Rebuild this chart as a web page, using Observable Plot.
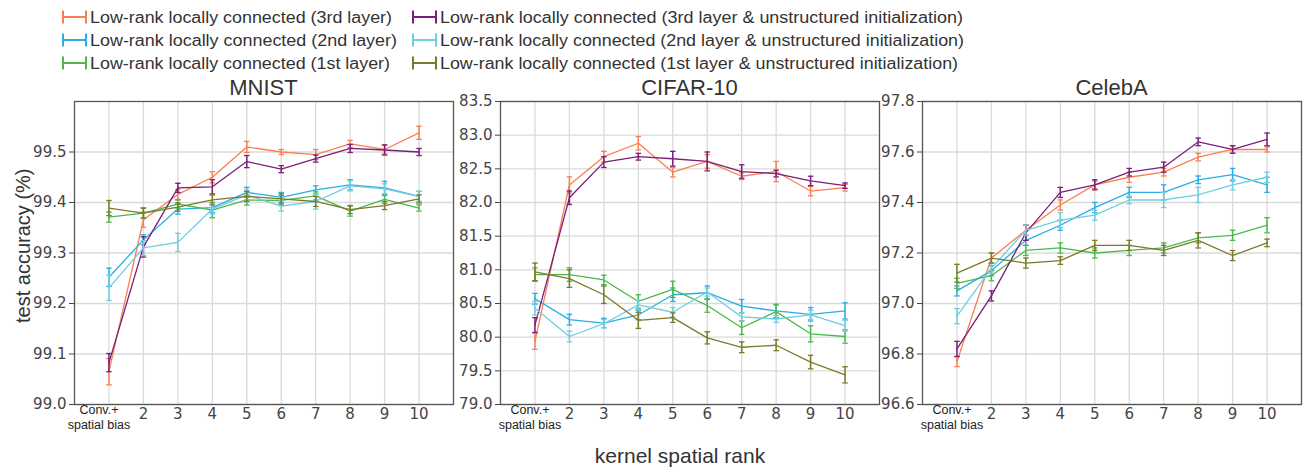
<!DOCTYPE html>
<html>
<head>
<meta charset="utf-8">
<script src="https://cdn.jsdelivr.net/npm/d3@7"></script>
<script src="https://cdn.jsdelivr.net/npm/@observablehq/plot@0.6"></script>
<style>
  html, body { margin: 0; padding: 0; background: #fff; }
  #root { position: relative; width: 1305px; height: 470px; overflow: hidden; background: #fff; }
  .abs { position: absolute; }
  .lbl { position: absolute; font-family: "Liberation Sans", Arial, sans-serif; color: #333; white-space: nowrap; line-height: 1; }
</style>
</head>
<body>
<div id="root"></div>
<script>
// ---------------- DATA ----------------
const xValues = [1, 2, 3, 4, 5, 6, 7, 8, 9, 10];
const xTickLabels = ["Conv.+\nspatial bias", "2", "3", "4", "5", "6", "7", "8", "9", "10"];

const seriesNames = [
  "Low-rank locally connected (3rd layer)",
  "Low-rank locally connected (2nd layer)",
  "Low-rank locally connected (1st layer)",
  "Low-rank locally connected (3rd layer & unstructured initialization)",
  "Low-rank locally connected (2nd layer & unstructured initialization)",
  "Low-rank locally connected (1st layer & unstructured initialization)"
];
const seriesColors = ["#fa7f50", "#2aaee6", "#4cb84c", "#7a1f7a", "#6fcde0", "#7a7a2a"];

const panelTitles = ["MNIST", "CIFAR-10", "CelebA"];

const mnistTicks = [99.0, 99.1, 99.2, 99.3, 99.4, 99.5];
const mnistMeans = [
  [99.065, 99.366, 99.416, 99.450, 99.510, 99.500, 99.495, 99.516, 99.505, 99.538],
  [99.252, 99.326, 99.387, 99.390, 99.420, 99.410, 99.425, 99.435, 99.429, 99.412],
  [99.371, 99.379, 99.397, 99.385, 99.405, 99.404, 99.413, 99.383, 99.406, 99.389],
  [99.083, 99.312, 99.429, 99.431, 99.481, 99.466, 99.487, 99.507, 99.504, 99.500],
  [99.231, 99.310, 99.321, 99.387, 99.415, 99.393, 99.402, 99.433, 99.427, 99.412],
  [99.389, 99.379, 99.391, 99.405, 99.412, 99.407, 99.402, 99.386, 99.394, 99.407]
];
const mnistErrs = [
  [0.026, 0.015, 0.010, 0.011, 0.011, 0.005, 0.010, 0.007, 0.009, 0.013],
  [0.018, 0.010, 0.010, 0.010, 0.010, 0.010, 0.008, 0.010, 0.013, 0.010],
  [0.010, 0.010, 0.008, 0.015, 0.010, 0.010, 0.008, 0.010, 0.008, 0.006],
  [0.018, 0.020, 0.009, 0.014, 0.012, 0.007, 0.007, 0.008, 0.010, 0.007],
  [0.025, 0.015, 0.018, 0.010, 0.010, 0.010, 0.015, 0.010, 0.010, 0.010],
  [0.015, 0.010, 0.008, 0.010, 0.010, 0.010, 0.010, 0.008, 0.008, 0.008]
];

const cifarTicks = [79.0, 79.5, 80.0, 80.5, 81.0, 81.5, 82.0, 82.5, 83.0, 83.5];
const cifarMeans = [
  [79.94, 82.26, 82.68, 82.88, 82.45, 82.61, 82.39, 82.46, 82.17, 82.22],
  [80.57, 80.26, 80.21, 80.33, 80.63, 80.66, 80.46, 80.39, 80.34, 80.39],
  [80.93, 80.93, 80.85, 80.53, 80.71, 80.47, 80.14, 80.38, 80.05, 80.01],
  [80.18, 82.07, 82.60, 82.68, 82.65, 82.61, 82.46, 82.43, 82.32, 82.25],
  [80.43, 80.01, 80.20, 80.48, 80.37, 80.67, 80.30, 80.27, 80.33, 80.17],
  [80.97, 80.87, 80.63, 80.25, 80.29, 79.99, 79.85, 79.88, 79.63, 79.44]
];
const cifarErrs = [
  [0.12, 0.12, 0.08, 0.10, 0.07, 0.10, 0.05, 0.15, 0.07, 0.05],
  [0.08, 0.08, 0.07, 0.07, 0.10, 0.10, 0.10, 0.10, 0.10, 0.12],
  [0.10, 0.10, 0.07, 0.10, 0.12, 0.10, 0.10, 0.10, 0.12, 0.10],
  [0.11, 0.10, 0.08, 0.05, 0.11, 0.14, 0.10, 0.05, 0.07, 0.04],
  [0.10, 0.08, 0.06, 0.07, 0.07, 0.06, 0.06, 0.05, 0.07, 0.08],
  [0.13, 0.13, 0.13, 0.12, 0.07, 0.09, 0.08, 0.08, 0.10, 0.12]
];

const celebaTicks = [96.6, 96.8, 97.0, 97.2, 97.4, 97.6, 97.8];
const celebaMeans = [
  [96.77, 97.18, 97.29, 97.39, 97.47, 97.50, 97.52, 97.58, 97.61, 97.61],
  [97.05, 97.13, 97.25, 97.31, 97.38, 97.44, 97.44, 97.49, 97.51, 97.47],
  [97.08, 97.11, 97.21, 97.22, 97.20, 97.21, 97.22, 97.26, 97.27, 97.31],
  [96.82, 97.03, 97.28, 97.44, 97.47, 97.52, 97.54, 97.64, 97.61, 97.65],
  [96.95, 97.14, 97.29, 97.33, 97.35, 97.41, 97.41, 97.43, 97.47, 97.50],
  [97.12, 97.18, 97.16, 97.17, 97.23, 97.23, 97.21, 97.25, 97.19, 97.24]
];
const celebaErrs = [
  [0.020, 0.020, 0.020, 0.020, 0.015, 0.020, 0.015, 0.015, 0.015, 0.010],
  [0.020, 0.020, 0.020, 0.020, 0.020, 0.020, 0.030, 0.015, 0.025, 0.030],
  [0.020, 0.020, 0.020, 0.020, 0.020, 0.020, 0.020, 0.020, 0.020, 0.030],
  [0.030, 0.020, 0.030, 0.020, 0.020, 0.015, 0.020, 0.015, 0.015, 0.025],
  [0.030, 0.020, 0.020, 0.030, 0.020, 0.015, 0.030, 0.030, 0.020, 0.020],
  [0.035, 0.020, 0.020, 0.015, 0.020, 0.020, 0.020, 0.030, 0.020, 0.015]
];

// ---------------- LAYOUT ----------------
const root = document.getElementById("root");
const PW = 444, PH = 353, ML = 60, MR = 5, MT = 5, MB = 45;
const panelLefts = [14, 440, 862];
const panelTop = 96;
const convDx = [-10, -5, -5];

function makePanel(means, errs, ticks, idx) {
  const rows = [];
  means.forEach((arr, s) => arr.forEach((v, i) => rows.push({s, x: xValues[i], y: v, e: errs[s][i]})));
  const marks = [
    Plot.ruleY(ticks, {stroke: "#dadada", strokeWidth: 1.3}),
    Plot.ruleX(xValues, {stroke: "#dadada", strokeWidth: 1.3})
  ];
  for (let s = 0; s < seriesNames.length; s++) {
    const d = rows.filter(r => r.s === s);
    const c = seriesColors[s];
    marks.push(Plot.line(d, {x: "x", y: "y", stroke: c, strokeWidth: 1.3}));
    marks.push(Plot.ruleX(d, {x: "x", y1: r => r.y - r.e, y2: r => r.y + r.e, stroke: c, strokeWidth: 1.5}));
    marks.push(Plot.link(d, {x1: r => r.x - 0.08, x2: r => r.x + 0.08, y1: r => r.y - r.e, y2: r => r.y - r.e, stroke: c, strokeWidth: 1.3}));
    marks.push(Plot.link(d, {x1: r => r.x - 0.08, x2: r => r.x + 0.08, y1: r => r.y + r.e, y2: r => r.y + r.e, stroke: c, strokeWidth: 1.3}));
  }
  const tickRows = xTickLabels.map((t, i) => ({x: xValues[i], lines: t.split("\n")}));
  const single = tickRows.filter(t => t.lines.length === 1);
  const multi = tickRows.filter(t => t.lines.length > 1);
  marks.push(Plot.text(single, {x: "x", text: r => r.lines[0], frameAnchor: "bottom", dy: 14, fontSize: 15, fill: "#444", fontFamily: "DejaVu Sans"}));
  marks.push(Plot.text(multi, {x: "x", text: r => r.lines[0], frameAnchor: "bottom", dy: 9, dx: convDx[idx], fontSize: 12.5, fill: "#222", fontFamily: "Liberation Sans"}));
  marks.push(Plot.text(multi, {x: "x", text: r => r.lines[1], frameAnchor: "bottom", dy: 24, dx: convDx[idx], fontSize: 12.5, fill: "#222", fontFamily: "Liberation Sans"}));
  marks.push(Plot.frame({stroke: "#555", strokeWidth: 1.3}));

  const svg = Plot.plot({
    width: PW, height: PH,
    marginLeft: ML, marginRight: MR, marginTop: MT, marginBottom: MB,
    style: {fontFamily: "DejaVu Sans", fontSize: "15px", color: "#444", background: "transparent", overflow: "visible"},
    x: {domain: [0, 11], axis: null},
    y: {domain: [ticks[0], idx === 0 ? 99.6 : ticks[ticks.length - 1]], ticks: ticks, tickFormat: d3.format(".1f"), tickSize: 5, tickPadding: 3, label: null},
    marks
  });
  svg.classList.add("abs");
  svg.style.left = panelLefts[idx] + "px";
  svg.style.top = panelTop + "px";
  root.appendChild(svg);

  const title = document.createElement("div");
  title.className = "lbl";
  title.textContent = panelTitles[idx];
  title.style.fontSize = "22px";
  title.style.width = "379px";
  title.style.textAlign = "center";
  title.style.left = (panelLefts[idx] + ML) + "px";
  title.style.top = "77px";
  root.appendChild(title);
}

makePanel(mnistMeans, mnistErrs, mnistTicks, 0);
makePanel(cifarMeans, cifarErrs, cifarTicks, 1);
makePanel(celebaMeans, celebaErrs, celebaTicks, 2);

// axis labels
const ylab = document.createElement("div");
ylab.className = "lbl";
ylab.textContent = "test accuracy (%)";
ylab.style.fontSize = "20px";
ylab.style.left = "0px";
ylab.style.top = "0px";
root.appendChild(ylab);
{
  const w = ylab.offsetWidth, h = ylab.offsetHeight;
  ylab.style.transformOrigin = "0 0";
  ylab.style.transform = `translate(${23 - h / 2}px, ${246 + w / 2}px) rotate(-90deg)`;
}

const xlab = document.createElement("div");
xlab.className = "lbl";
xlab.textContent = "kernel spatial rank";
xlab.style.fontSize = "21px";
xlab.style.left = "680px";
xlab.style.top = "455px";
xlab.style.transform = "translate(-50%, -50%)";
root.appendChild(xlab);

// legend
const legendTargets = [302, 307, 300, 523, 524, 518];
const leg = d3.select(root).append("svg")
  .attr("class", "abs").style("left", "0px").style("top", "0px")
  .attr("width", 1000).attr("height", 76);
seriesNames.forEach((name, i) => {
  const col = Math.floor(i / 3), row = i % 3;
  const x0 = col === 0 ? 62 : 412;
  const y0 = 17 + row * 23;
  const g = leg.append("g").attr("stroke", seriesColors[i]).attr("stroke-width", 2);
  g.append("line").attr("x1", x0).attr("x2", x0 + 25).attr("y1", y0).attr("y2", y0);
  g.append("line").attr("x1", x0 + 1).attr("x2", x0 + 1).attr("y1", y0 - 6.5).attr("y2", y0 + 6.5);
  g.append("line").attr("x1", x0 + 24).attr("x2", x0 + 24).attr("y1", y0 - 6.5).attr("y2", y0 + 6.5);
  leg.append("text")
    .attr("x", x0 + 28).attr("y", y0)
    .attr("dominant-baseline", "central")
    .attr("font-family", "Liberation Sans, Arial, sans-serif")
    .attr("font-size", 16)
    .attr("fill", "#333")
    .attr("textLength", legendTargets[i])
    .attr("lengthAdjust", "spacingAndGlyphs")
    .text(name);
});
</script>
</body>
</html>
